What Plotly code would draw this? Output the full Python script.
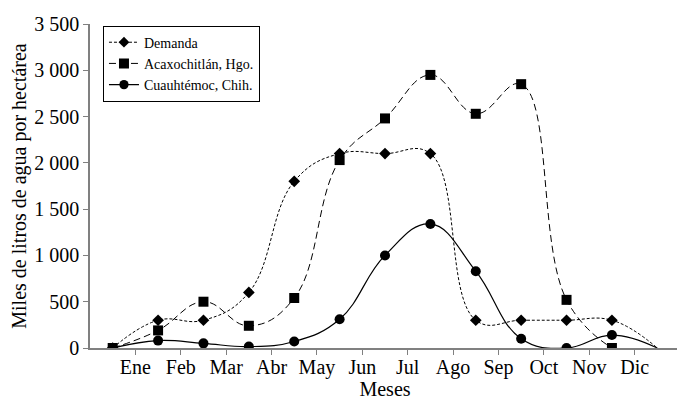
import plotly.graph_objects as go

months = ["Ene", "Feb", "Mar", "Abr", "May", "Jun", "Jul", "Ago", "Sep", "Oct", "Nov", "Dic"]
demanda = [0, 300, 300, 600, 1800, 2100, 2100, 2100, 300, 300, 300, 300, 0]
acaxochitlan = [0, 190, 500, 240, 540, 2030, 2480, 2950, 2530, 2850, 520, 0]
cuauhtemoc = [0, 80, 50, 15, 70, 310, 1000, 1340, 830, 100, 0, 140, 0]

FONT = "Liberation Serif"
SMOOTH = 1.2

def sizes(n, s, hide_last):
    out = [s] * n
    if hide_last:
        out[-1] = 0
    return out

fig = go.Figure()
fig.add_trace(go.Scatter(
    x=list(range(len(demanda))), y=demanda, name="Demanda", legendrank=1,
    mode="lines+markers",
    line=dict(color="black", width=1, dash="3px,2px", shape="spline", smoothing=SMOOTH),
    marker=dict(symbol="diamond", size=sizes(len(demanda), 9, True), color="black",
                opacity=1, line=dict(width=0)),
))
fig.add_trace(go.Scatter(
    x=list(range(len(cuauhtemoc))), y=cuauhtemoc, name="Cuauhtémoc, Chih.", legendrank=3,
    mode="lines+markers",
    line=dict(color="black", width=1.2, shape="spline", smoothing=SMOOTH),
    marker=dict(symbol="circle", size=sizes(len(cuauhtemoc), 10, True), color="black",
                opacity=1, line=dict(width=0)),
))
fig.add_trace(go.Scatter(
    x=list(range(len(acaxochitlan))), y=acaxochitlan, name="Acaxochitlán, Hgo.", legendrank=2,
    mode="lines+markers",
    line=dict(color="black", width=1, dash="7px,4px", shape="spline", smoothing=SMOOTH),
    marker=dict(symbol="square", size=10, color="black", opacity=1, line=dict(width=0)),
))

tickvals = [i + 0.5 for i in range(len(months))] + [len(months) + 0.5]
ticktext = months + [""]

# page body has an 8px default margin, so the figure is 8px smaller
fig.update_layout(
    width=677, height=396,
    margin=dict(l=82, r=5, t=11, b=56),
    paper_bgcolor="white", plot_bgcolor="white",
    font=dict(family=FONT, size=20, color="black"),
    separators=". ",
    showlegend=True,
    legend=dict(
        x=0.022, y=0.995, xanchor="left", yanchor="top",
        bordercolor="black", borderwidth=1, bgcolor="white",
        font=dict(family=FONT, size=14, color="black"),
        itemwidth=30, tracegroupgap=0,
    ),
)
fig.update_xaxes(
    range=[-0.5, 12.5], tickmode="array", tickvals=tickvals, ticktext=ticktext,
    showgrid=False, zeroline=False, showline=True, linecolor="#808080", linewidth=1.5,
    ticks="outside", ticklen=5, tickcolor="#808080", ticklabelstandoff=-5,
    tickfont=dict(family=FONT, size=20),
    title=dict(text="Meses", font=dict(family=FONT, size=20), standoff=0),
)
fig.update_yaxes(
    range=[0, 3500], dtick=500, tickformat=",d",
    showgrid=False, zeroline=False, showline=True, linecolor="#808080", linewidth=1.5,
    ticks="outside", ticklen=5, tickcolor="#808080",
    tickfont=dict(family=FONT, size=20),
    title=dict(text="Miles de litros de agua por hectárea", font=dict(family=FONT, size=20), standoff=4),
)
fig.write_html("out.html")
